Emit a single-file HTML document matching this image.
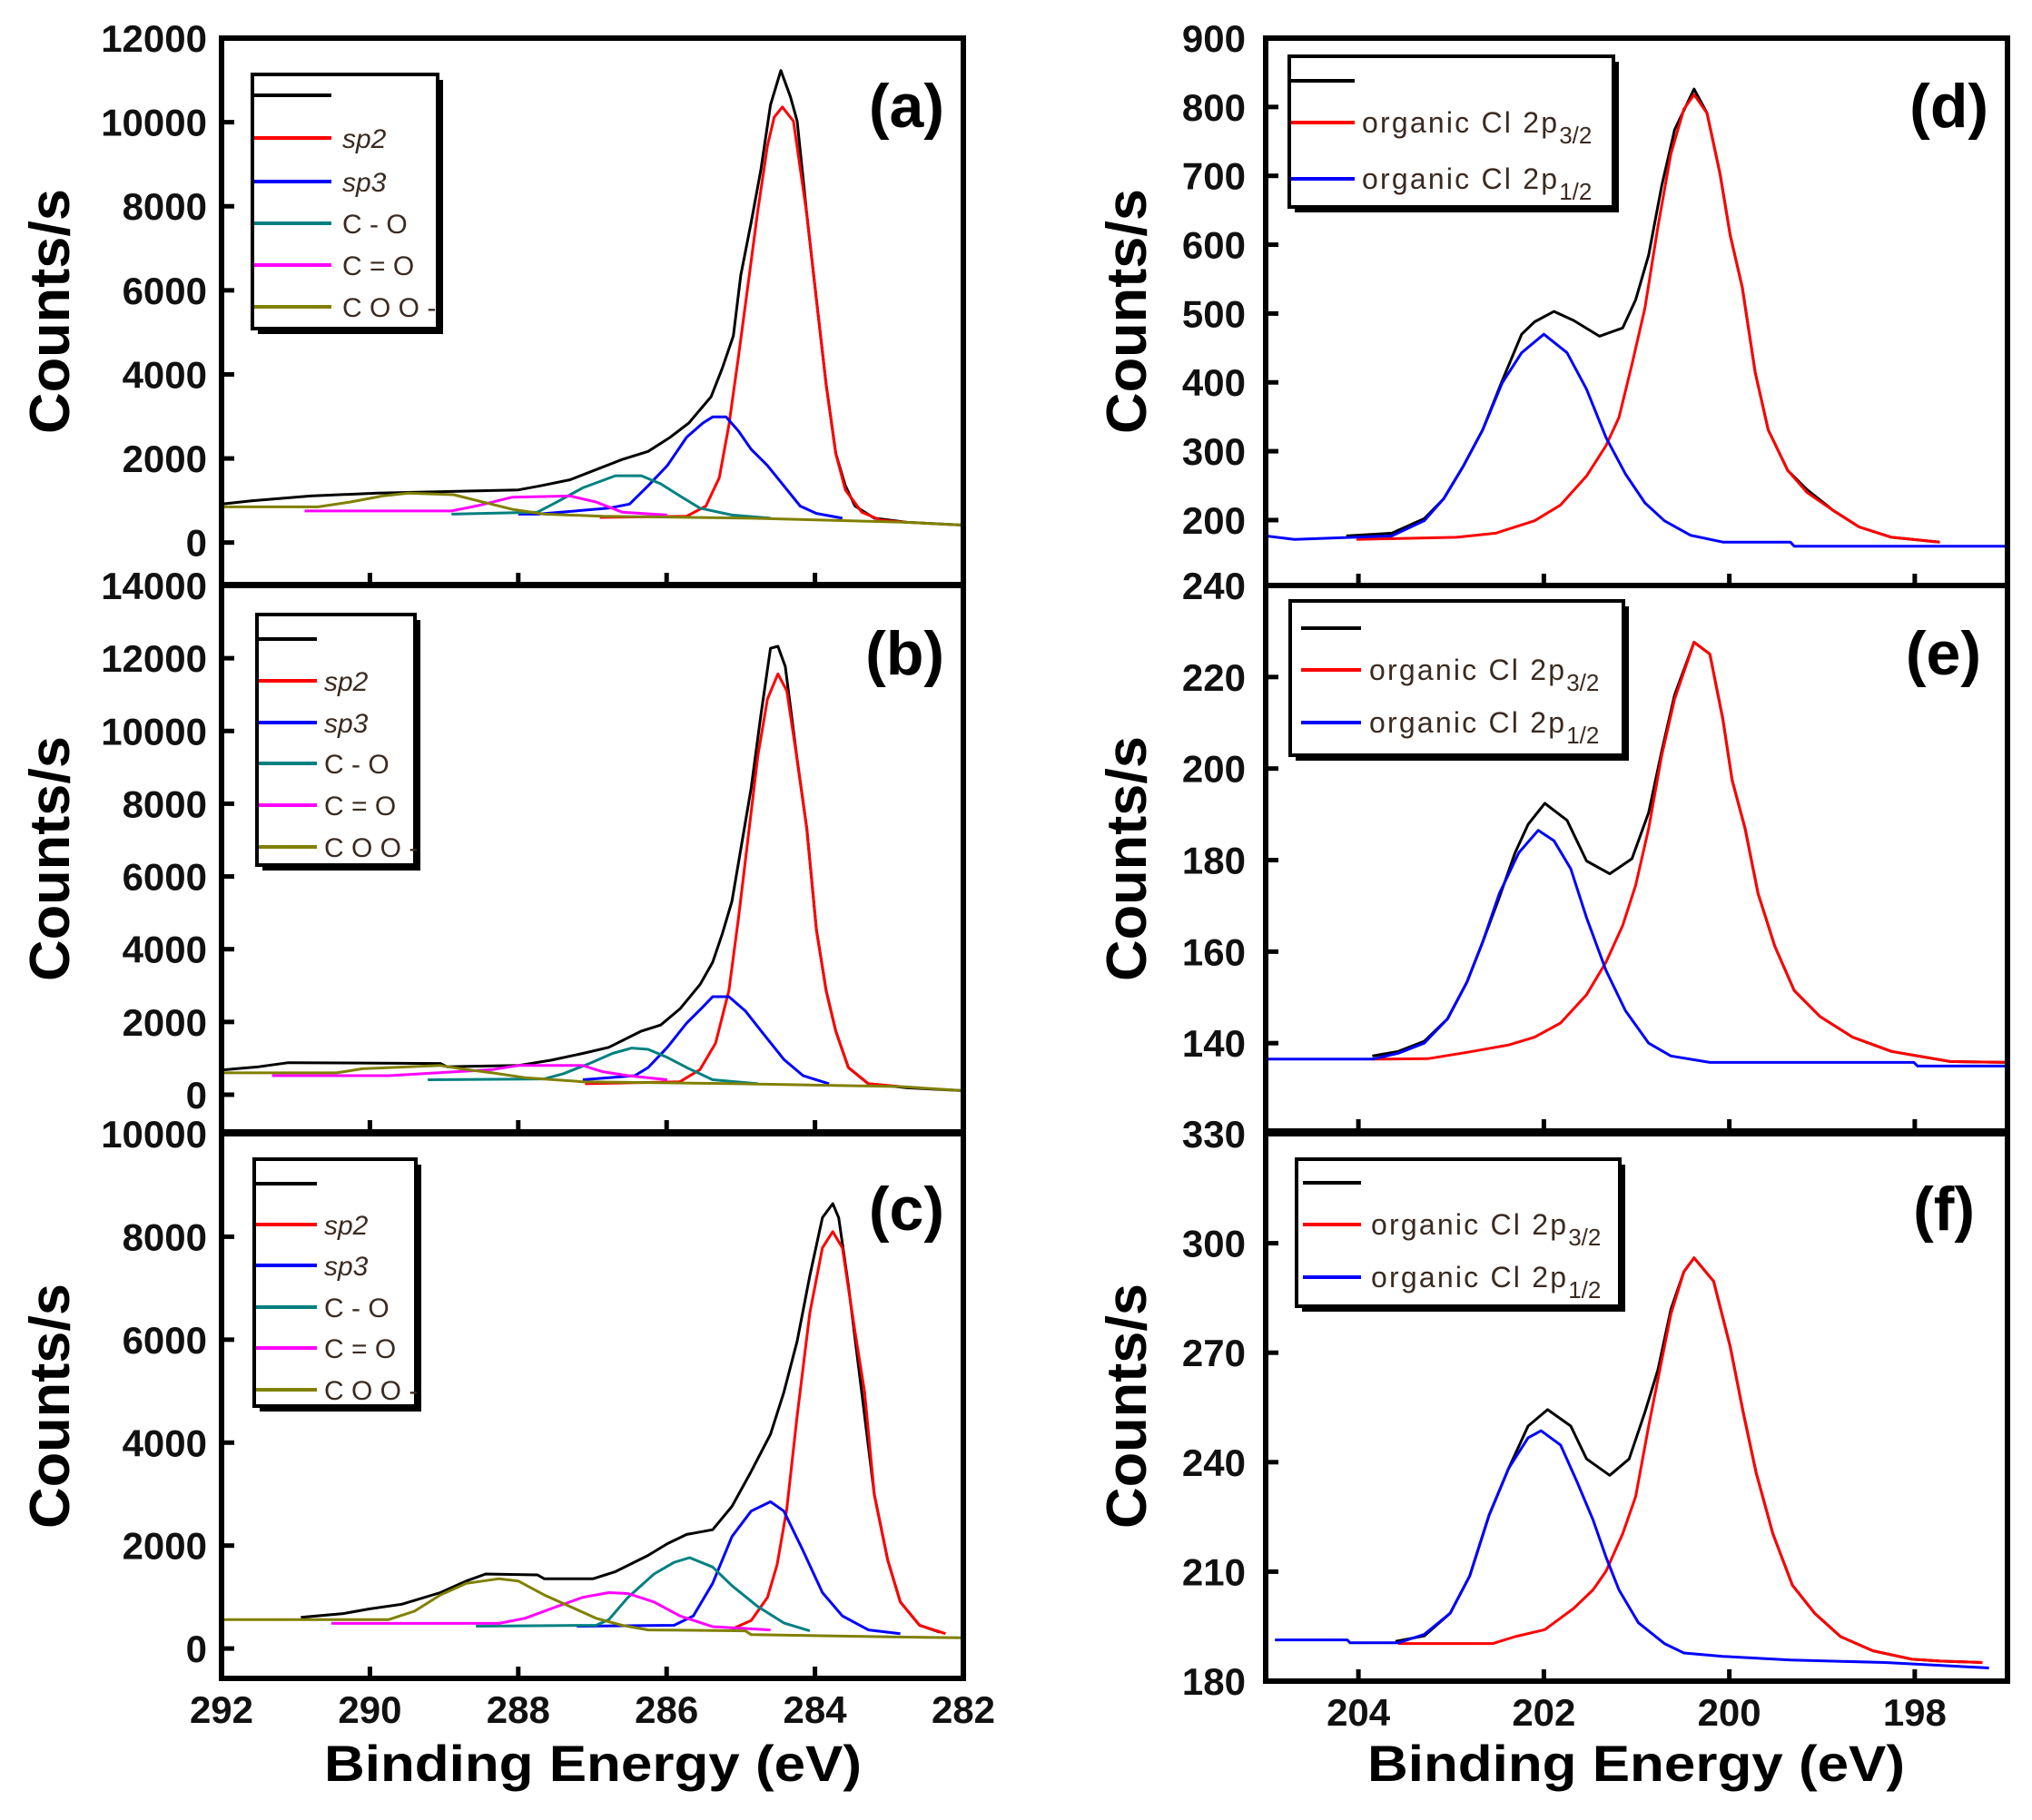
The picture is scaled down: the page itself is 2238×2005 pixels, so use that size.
<!DOCTYPE html>
<html><head><meta charset="utf-8">
<style>
html,body{margin:0;padding:0;background:#fff;}
svg{display:block;font-family:"Liberation Sans",Arial,sans-serif;}
</style></head>
<body>
<svg id="fig" width="2238" height="2005" viewBox="0 0 2238 2005" xmlns="http://www.w3.org/2000/svg">
<rect x="0" y="0" width="2238" height="2005" fill="#fff"/>
<g id="root"></g>
</svg>
<script>
// ---------- Data: panel (a) C1s ----------
const aBlackX=[292,291.6,290.8,289.9,288.0,287.7,287.3,286.6,286.25,285.95,285.7,285.4,285.25,285.1,285.0,284.86,284.73,284.6,284.46,284.33,284.24,284.11,283.98,283.85,283.72,283.59,283.46,283.2,282.76,282];
const aBlackY=[916,993,1108,1176,1253,1350,1494,1976,2169,2506,2843,3470,4145,4916,6361,7614,8867,10410,11229,10602,10024,7807,5783,3759,2120,1349,867,578,482,414];
const aSp2X=[286.9,285.73,285.47,285.29,285.16,285.03,284.9,284.77,284.64,284.55,284.44,284.29,284.11,283.98,283.85,283.72,283.59,283.37,283.11,282.76];
const aSp2Y=[598,626,867,1542,2795,4434,6169,7904,9446,10120,10361,10024,7807,5783,3759,2120,1253,723,530,482];
const aSp3X=[288.0,287.74,286.78,286.5,286.25,285.99,285.73,285.51,285.38,285.2,285.03,284.86,284.64,284.42,284.2,283.98,283.63];
const aSp3Y=[675,675,819,916,1349,1831,2506,2843,2988,2988,2651,2217,1831,1349,867,694,578];
const aCOX=[288.9,287.74,287.48,287.13,286.69,286.34,286.08,285.82,285.55,285.12,284.6];
const aCOY=[675,723,964,1301,1590,1590,1398,1108,819,655,578];
const aCdOX=[290.88,288.9,288.52,288.08,287.3,286.95,286.6,285.99];
const aCdOY=[752,752,887,1080,1108,964,723,655];
const aCOOX=[292,290.7,290.27,289.83,289.48,288.87,288.52,288.08,287.65,286.86,284.86,282.76,282];
const aCOOY=[848,848,964,1108,1176,1137,983,790,675,626,578,482,414];
// ---------- panel (b) ----------
const bBlackX=[292,291.5,291.1,289.05,288.96,288,287.56,287.13,286.78,286.34,286.08,285.82,285.55,285.38,285.25,285.12,284.99,284.86,284.73,284.6,284.5,284.4,284.24,284.11,283.98,283.85,283.72,283.55,283.28,282.76,282];
const bBlackY=[679,768,880,857,768,802,947,1136,1303,1748,1915,2361,3029,3641,4421,5312,6871,8430,10434,12272,12327,11771,9209,7316,4532,2862,1748,746,301,189,111];
const bSp2X=[287.1,285.82,285.55,285.34,285.16,285.03,284.9,284.77,284.64,284.5,284.38,284.24,284.11,283.98,283.85,283.72,283.55,283.28,282.85];
const bSp2Y=[301,356,690,1414,2862,4866,7094,9321,10880,11570,11102,9209,7316,4532,2862,1748,746,301,223];
const bSp3X=[287.13,286.43,286.25,285.99,285.73,285.51,285.38,285.16,284.94,284.68,284.42,284.16,283.81];
const bSp3Y=[412,523,746,1303,1971,2416,2695,2695,2305,1637,969,523,301];
const bCOX=[289.22,287.65,287.39,287.04,286.73,286.47,286.25,285.99,285.73,285.38,284.77];
const bCOY=[412,434,579,857,1136,1281,1247,1024,746,412,301];
const bCdOX=[291.32,289.74,288.35,288,287.13,286.87,286.52,285.99];
const bCdOY=[523,523,690,802,802,635,523,412];
const bCOOX=[292,290.45,290.1,289.05,288.7,288.35,287.91,287.13,285.03,282.85,282];
const bCOOY=[601,601,713,802,690,601,468,356,301,223,111];
// ---------- panel (c) ----------
const cBlackX=[290.93,290.36,290.01,289.57,289.05,288.7,288.44,287.74,287.65,286.99,286.69,286.25,285.99,285.73,285.38,285.12,284.86,284.6,284.42,284.24,284.07,283.9,283.76,283.68,283.55,283.37,283.2,283.02,282.85,282.59,282.32];
const cBlackY=[606,679,769,860,1086,1312,1448,1430,1357,1357,1493,1810,2036,2217,2308,2760,3439,4163,4977,5973,7240,8371,8643,8371,7059,4977,2986,1719,905,452,317];
const cSp2X=[285.12,284.86,284.64,284.51,284.38,284.24,284.07,283.9,283.76,283.63,283.46,283.33,283.2,283.02,282.85,282.59,282.24];
const cSp2Y=[380,543,995,1629,2715,4525,6516,7783,8100,7783,6154,4977,2986,1719,905,452,290];
const cSp3X=[287.21,285.9,285.64,285.38,285.12,284.86,284.6,284.42,284.16,283.9,283.63,283.28,282.85];
const cSp3Y=[434,452,633,1267,2172,2670,2851,2670,1900,1086,633,362,290];
const cCOX=[288.57,286.95,286.78,286.52,286.17,285.9,285.69,285.38,285.12,284.77,284.42,284.07];
const cCOY=[434,452,561,995,1448,1674,1765,1584,1222,814,498,344];
const cCdOX=[290.52,288.26,287.91,287.48,287.13,286.78,286.52,286.17,285.82,285.38,284.6];
const cCdOY=[489,489,588,814,995,1086,1068,905,633,425,362];
const cCOOX=[292,289.75,289.4,289.05,288.7,288.26,288,287.65,287.3,286.95,286.6,286.25,284.94,284.86,282.98,282];
const cCOOY=[561,561,724,1041,1267,1357,1312,1041,814,588,452,362,344,271,226,208];
// ---------- panel (d) Cl 2p ----------
const dBlackX=[204.13,203.64,203.29,203.08,202.87,202.66,202.45,202.24,202.1,201.89,201.68,201.4,201.15,201.01,200.87,200.73,200.59,200.38,200.24,200.1,199.99,199.86,199.72,199.58,199.37,199.16,198.88,198.6,198.25,197.73];
const dBlackY=[177,181,202,231,278,331,402,470,488,503,490,467,479,520,585,685,767,826,791,703,614,538,414,331,272,244,214,190,175,168];
const dP32X=[204.02,202.94,202.52,202.1,201.82,201.54,201.33,201.19,201.05,200.91,200.77,200.63,200.49,200.38,200.24,200.1,199.99,199.86,199.72,199.58,199.37,199.16,198.88,198.6,198.25,197.73];
const dP32Y=[172,175,181,199,222,264,308,349,426,508,626,732,797,818,791,703,614,538,414,331,272,240,214,190,175,168];
const dP12X=[205,204.69,203.64,203.29,203.08,202.87,202.66,202.45,202.24,202,201.75,201.54,201.33,201.12,200.91,200.7,200.42,200.07,199.34,199.3,197];
const dP12Y=[177,172,177,199,231,278,331,399,443,470,443,390,320,267,225,199,178,168,168,162,162];
// ---------- panel (e) ----------
const eBlackX=[203.85,203.57,203.29,203.04,202.83,202.66,202.48,202.31,202.17,201.99,201.75,201.54,201.29,201.05,200.87,200.73,200.59,200.38,200.21,200.07,199.97,199.83,199.69,199.51,199.3,199.02,198.67,198.25,197.62,197];
const eBlackY=[137.2,138.2,140.4,145.3,153.3,162.1,171.9,181.6,187.8,192.4,188.7,179.8,177,180.3,190.4,203.7,216.1,227.6,225,210.8,197.5,186.9,172.7,161.2,151.5,145.8,141.3,138.2,136,135.8];
const eP32X=[203.85,203.25,202.8,202.38,202.1,201.82,201.54,201.33,201.15,201.01,200.87,200.73,200.59,200.38,200.21,200.07,199.97,199.83,199.69,199.51,199.3,199.02,198.67,198.25,197.62,197];
const eP32Y=[136.5,136.6,138.1,139.6,141.3,144.4,150.6,157.7,165.7,174.5,186.9,202.8,215.2,227.6,225,210.8,197.5,186.9,172.7,161.2,151.5,145.8,141.3,138.2,136,135.8];
const eP12X=[205,203.85,203.57,203.29,203.04,202.83,202.66,202.48,202.27,202.06,201.89,201.71,201.54,201.33,201.12,200.87,200.63,200.21,198.01,197.97,197];
const eP12Y=[136.5,136.5,137.8,140,145.3,153.3,162.1,172.7,181.6,186.5,184.2,178.1,167.4,155.9,147.1,140,137.2,135.8,135.8,135,135];
// ---------- panel (f) ----------
const fBlackX=[203.6,203.29,203.01,202.8,202.59,202.38,202.17,201.96,201.71,201.54,201.29,201.08,200.91,200.77,200.63,200.49,200.38,200.17,199.99,199.85,199.71,199.53,199.32,199.08,198.8,198.45,198.03,197.73,197.27];
const fBlackY=[190.9,192.4,198.6,208.8,225.5,238.3,249.9,254.4,249.9,240.9,236.4,240.9,253.7,265.3,281.9,292.2,296,289.6,271.7,253.7,237.1,220.4,206.3,198.6,192.2,188.3,186,185.5,185.1];
const fP32X=[203.57,202.55,202.31,201.99,201.68,201.47,201.33,201.15,201.01,200.87,200.73,200.63,200.49,200.38,200.17,199.99,199.85,199.71,199.53,199.32,199.08,198.8,198.45,198.03,197.73,197.27];
const fP32Y=[190.3,190.3,192.2,194.1,199.9,205,210.1,220.4,230.6,249.9,267.8,280.6,292.2,296,289.6,271.7,253.7,237.1,220.4,206.3,198.6,192.2,188.3,186,185.5,185.1];
const fP12X=[204.9,204.12,204.09,203.57,203.29,203.01,202.8,202.59,202.38,202.17,202.03,201.82,201.64,201.47,201.33,201.19,200.98,200.7,200.49,200.07,199.34,198.32,197.2];
const fP12Y=[191.3,191.3,190.5,190.5,192.8,198.6,208.8,225.5,238.3,246.7,248.6,244.7,234.5,224.2,214,205,196,190.3,187.7,186.8,185.8,185.1,183.6];

const aTicks=[0,2000,4000,6000,8000,10000,12000];
const bTicks=[0,2000,4000,6000,8000,10000,12000,14000];
const cTicks=[0,2000,4000,6000,8000,10000];
const dTicks=[200,300,400,500,600,700,800,900];
const eTicks=[140,160,180,200,220,240];
const fTicks=[180,210,240,270,300,330];
const leftXTicks=[292,290,288,286,284,282];
const rightXTicks=[204,202,200,198];
const cLegendLabels=["","sp2","sp3","C - O","C = O","C O O -"];

const NS="http://www.w3.org/2000/svg";
const root=document.getElementById('root');
function el(tag,attrs,parent){const e=document.createElementNS(NS,tag);for(const k in attrs)e.setAttribute(k,attrs[k]);(parent||root).appendChild(e);return e;}

const COL={black:"#000",red:"#ff0000",blue:"#0000ff",teal:"#008080",mag:"#ff00ff",olive:"#808000"};

function panel(cfg){
  const g=el('g',{});
  
  
  const sx=v=>cfg.x0+(cfg.xmax-v)/(cfg.xmax-cfg.xmin)*(cfg.x1-cfg.x0);
  const sy=v=>cfg.y1-(v-cfg.ymin)/(cfg.ymax-cfg.ymin)*(cfg.y1-cfg.y0);
  cfg.series.forEach(s=>{
    const pts=s.x.map((xv,i)=>sx(xv).toFixed(1)+','+sy(s.y[i]).toFixed(1)).join(' ');
    const p=el('polyline',{points:pts,fill:'none',stroke:s.c,'stroke-width':3,'stroke-linejoin':'round'},g);
    
    
  });
  const fr=el('rect',{x:cfg.x0,y:cfg.y0,width:cfg.x1-cfg.x0,height:cfg.y1-cfg.y0,fill:'none',stroke:'#000','stroke-width':6},g);
  
  
  cfg.yt.forEach(v=>{
    const y=sy(v);
    el('line',{x1:cfg.x0,x2:cfg.x0+14,y1:y,y2:y,stroke:'#000','stroke-width':5},g);
    const t=el('text',{x:cfg.lblx,y:y+15,'text-anchor':'end','font-size':42,'font-weight':'bold',fill:'#111'},g);
    t.textContent=String(v);
    
    
  });
  cfg.xt.forEach(v=>{
    const x=sx(v);
    el('line',{x1:x,x2:x,y1:cfg.y1,y2:cfg.y1-13,stroke:'#000','stroke-width':5},g);
    if(cfg.showX){
      const t=el('text',{x:x,y:cfg.y1+49,'text-anchor':'middle','font-size':42,'font-weight':'bold',fill:'#111'},g);
      t.textContent=String(v);
      
      
    }
  });
  const L=el('text',{x:cfg.lx,y:cfg.ly,'text-anchor':'end','font-size':68,'font-weight':'bold',fill:'#000'},g);
  L.textContent='('+cfg.id+')';
  
  
  const lg=el('g',{},g);
  
  
  const b=cfg.leg;
  el('rect',{x:b.x+6,y:b.y+6,width:b.w,height:b.h,fill:'#000'},lg);
  el('rect',{x:b.x,y:b.y,width:b.w,height:b.h,fill:'#fff',stroke:'#000','stroke-width':4},lg);
  b.rows.forEach((r,i)=>{
    const s=cfg.series[i];
    const ln=el('line',{x1:b.lx0,x2:b.lx1,y1:r,y2:r,stroke:s.c,'stroke-width':4},lg);
    
    
    if(b.labels[i]){
      const t=el('text',{x:b.tx,y:r+11,'font-size':b.fs,fill:'#3a2a20'},lg);
      if(b.sub){
        t.innerHTML='<tspan textLength="215" lengthAdjust="spacing">organic Cl 2p</tspan><tspan dy="12" font-size="26">'+b.labels[i]+'</tspan>';
      } else {
        t.textContent=b.labels[i];
        if(i<=2) t.setAttribute('font-style','italic');
      }
      
      
    }
  });
}

function cSeries(p){
  return [
    {n:'envelope',c:COL.black,x:p[0],y:p[1]},
    {n:'sp2',c:COL.red,x:p[2],y:p[3]},
    {n:'sp3',c:COL.blue,x:p[4],y:p[5]},
    {n:'c-o',c:COL.teal,x:p[6],y:p[7]},
    {n:'c-double-o',c:COL.mag,x:p[8],y:p[9]},
    {n:'coo',c:COL.olive,x:p[10],y:p[11]}];
}
function clSeries(p){
  return [
    {n:'envelope',c:COL.black,x:p[0],y:p[1]},
    {n:'cl2p32',c:COL.red,x:p[2],y:p[3]},
    {n:'cl2p12',c:COL.blue,x:p[4],y:p[5]}];
}
const LX0=244,LX1=1061,RX0=1394,RX1=2211;
panel({id:'a',x0:LX0,x1:LX1,y0:42,y1:644,xmin:282,xmax:292,ymin:-1000,ymax:12000,yt:aTicks,xt:leftXTicks,showX:false,lblx:228,lx:1040,ly:140,
  series:cSeries([aBlackX,aBlackY,aSp2X,aSp2Y,aSp3X,aSp3Y,aCOX,aCOY,aCdOX,aCdOY,aCOOX,aCOOY]),
  leg:{x:278,y:82,w:204,h:280,lx0:280,lx1:365,tx:377,fs:30,rows:[105,152,200,246,292,338],labels:cLegendLabels}});
panel({id:'b',x0:LX0,x1:LX1,y0:645,y1:1247,xmin:282,xmax:292,ymin:-1024,ymax:14000,yt:bTicks,xt:leftXTicks,showX:false,lblx:228,lx:1040,ly:743,
  series:cSeries([bBlackX,bBlackY,bSp2X,bSp2Y,bSp3X,bSp3Y,bCOX,bCOY,bCdOX,bCdOY,bCOOX,bCOOY]),
  leg:{x:283,y:677,w:174,h:276,lx0:285,lx1:349,tx:357,fs:30,rows:[704,750,796,841,887,933],labels:cLegendLabels}});
panel({id:'c',x0:LX0,x1:LX1,y0:1249,y1:1849,xmin:282,xmax:292,ymin:-580,ymax:10000,yt:cTicks,xt:leftXTicks,showX:true,lblx:228,lx:1040,ly:1355,
  series:cSeries([cBlackX,cBlackY,cSp2X,cSp2Y,cSp3X,cSp3Y,cCOX,cCOY,cCdOX,cCdOY,cCOOX,cCOOY]),
  leg:{x:280,y:1277,w:178,h:272,lx0:282,lx1:349,tx:357,fs:30,rows:[1304,1349,1394,1440,1485,1531],labels:cLegendLabels}});
panel({id:'d',x0:RX0,x1:RX1,y0:42,y1:645,xmin:197,xmax:205,ymin:105,ymax:900,yt:dTicks,xt:rightXTicks,showX:false,lblx:1372,lx:2190,ly:140,
  series:clSeries([dBlackX,dBlackY,dP32X,dP32Y,dP12X,dP12Y]),
  leg:{x:1420,y:62,w:357,h:166,lx0:1422,lx1:1492,tx:1500,fs:32,sub:true,rows:[89,135,197],labels:['','3/2','1/2']}});
panel({id:'e',x0:RX0,x1:RX1,y0:645,y1:1246,xmin:197,xmax:205,ymin:120.8,ymax:240,yt:eTicks,xt:rightXTicks,showX:false,lblx:1372,lx:2182,ly:743,
  series:clSeries([eBlackX,eBlackY,eP32X,eP32Y,eP12X,eP12Y]),
  leg:{x:1421,y:662,w:367,h:170,lx0:1433,lx1:1499,tx:1508,fs:32,sub:true,rows:[692,738,796],labels:['','3/2','1/2']}});
panel({id:'f',x0:RX0,x1:RX1,y0:1249,y1:1852,xmin:197,xmax:205,ymin:180,ymax:330,yt:fTicks,xt:rightXTicks,showX:true,lblx:1372,lx:2175,ly:1355,
  series:clSeries([fBlackX,fBlackY,fP32X,fP32Y,fP12X,fP12Y]),
  leg:{x:1428,y:1277,w:356,h:162,lx0:1435,lx1:1499,tx:1510,fs:32,sub:true,rows:[1303,1349,1407],labels:['','3/2','1/2']}});

function title(txt,x,y,rot,name,fs,len){
  const t=el('text',{x:x,y:y,'text-anchor':'middle','font-size':fs,'font-weight':'bold',fill:'#000'});
  if(len){t.setAttribute('textLength',len);t.setAttribute('lengthAdjust','spacingAndGlyphs');}
  if(rot) t.setAttribute('transform','rotate(-90 '+x+' '+y+')');
  t.textContent=txt;
  
  
}
title('Binding Energy (eV)',653,1962,false,'x-axis-title-left',56,592);
title('Binding Energy (eV)',1802,1962,false,'x-axis-title-right',56,592);
[[343,'a'],[946,'b'],[1549,'c']].forEach(p=>title('Counts/s',76,p[0],true,'y-axis-title-'+p[1],62,270));
[[343,'d'],[946,'e'],[1549,'f']].forEach(p=>title('Counts/s',1262,p[0],true,'y-axis-title-'+p[1],62,270));
</script>
</body></html>
